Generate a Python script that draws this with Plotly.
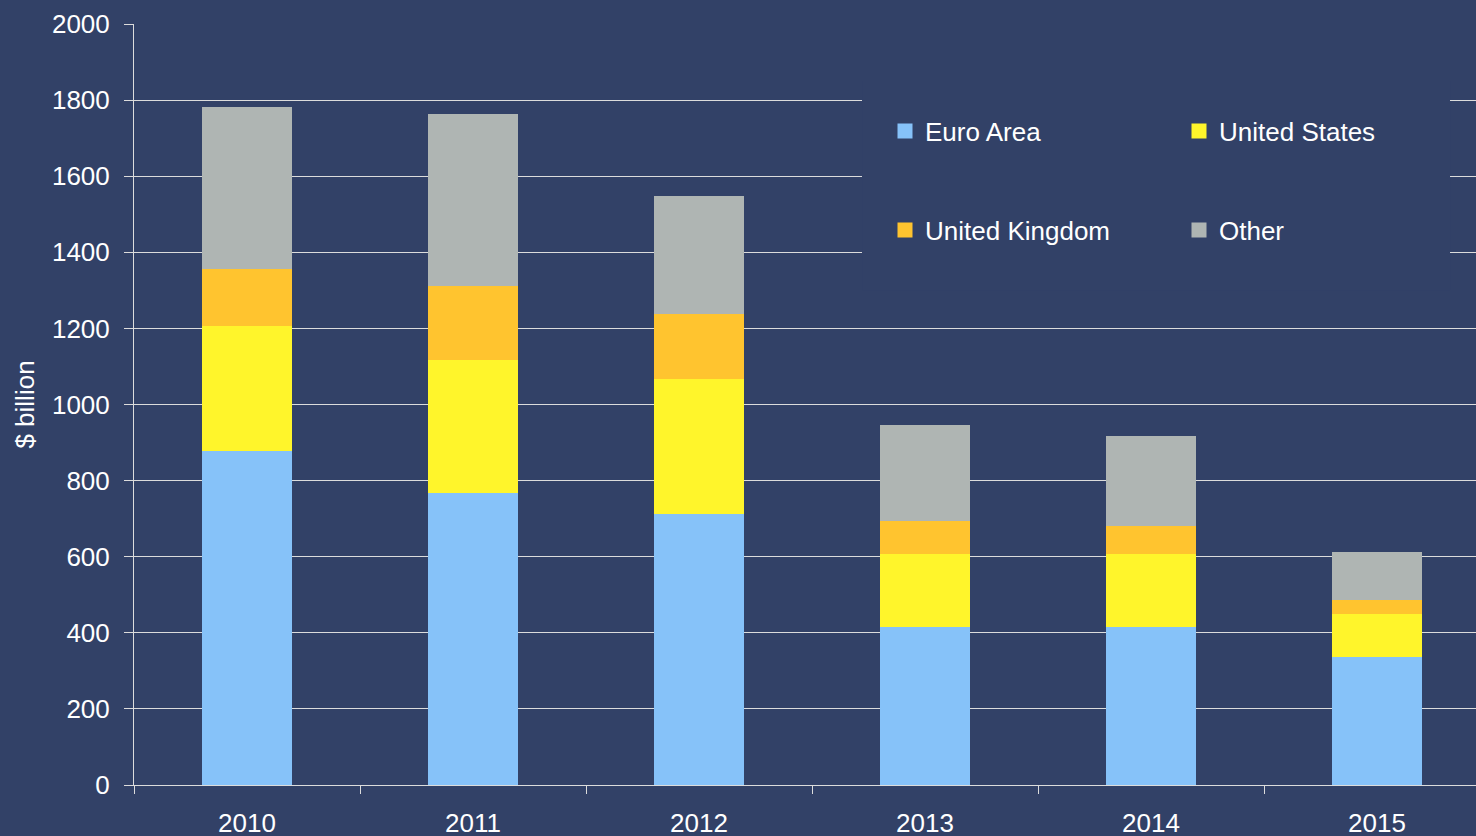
import plotly.graph_objects as go

years = ["2010", "2011", "2012", "2013", "2014", "2015"]
euro_area = [878, 767, 712, 414, 415, 336]
united_states = [328, 350, 355, 193, 192, 113]
united_kingdom = [150, 194, 171, 87, 74, 37]
other = [426, 452, 310, 252, 236, 126]

series_names = ["Euro Area", "United States", "United Kingdom", "Other"]
series_values = [euro_area, united_states, united_kingdom, other]
series_colors = ["#86C2F9", "#FFF52B", "#FFC42F", "#AFB5B3"]
legend_ids = ["legend", "legend2", "legend3", "legend4"]
# legend item positions (pixel left of legend box, pixel y of row centre)
legend_px = [(885, 131), (1179, 131), (885, 230), (1179, 230)]

BG = "#324167"
FONT = "Liberation Sans, Arial, sans-serif"
TXT = "#FFFFFF"
LINE = "#DCDCDC"
FS = 26

PL, PR, PT, PB = 134, 1476, 24, 785

fig = go.Figure()
for name, vals, color in zip(series_names, series_values, series_colors):
    fig.add_trace(go.Bar(x=years, y=vals, name=name, marker=dict(color=color, line=dict(width=0)),
                         width=0.40, showlegend=False))
for name, color, lg in zip(series_names, series_colors, legend_ids):
    fig.add_trace(go.Scatter(x=[None], y=[None], mode="markers", name=name, legend=lg,
                             marker=dict(symbol="square", size=15, color=color), showlegend=True))

legends = {}
for lg, (lx, ly) in zip(legend_ids, legend_px):
    legends[lg] = dict(orientation="v", x=(lx - PL) / (PR - PL), xanchor="left",
                       y=(PB - ly) / (PB - PT), yanchor="middle",
                       bgcolor="rgba(0,0,0,0)", borderwidth=0,
                       font=dict(family=FONT, size=FS, color=TXT), itemclick=False, itemdoubleclick=False)

fig.update_layout(
    width=1476, height=836,
    barmode="stack",
    paper_bgcolor=BG, plot_bgcolor=BG,
    margin=dict(l=PL, r=1476 - PR, t=PT, b=836 - PB, autoexpand=False),
    font=dict(family=FONT, size=FS, color=TXT),
    xaxis=dict(type="category", range=[-0.5, 5.438], tickson="boundaries",
               ticks="outside", ticklen=8, tickcolor=LINE, tickwidth=1,
               showgrid=False, showline=True, linecolor=LINE, linewidth=1,
               ticklabelstandoff=15, tickfont=dict(size=FS, color=TXT)),
    yaxis=dict(range=[0, 2000], tickvals=list(range(0, 2001, 200)),
               ticks="outside", ticklen=9, tickcolor=LINE, tickwidth=1,
               showgrid=True, gridcolor=LINE, gridwidth=1, zeroline=False,
               showline=True, linecolor=LINE, linewidth=1,
               ticklabelstandoff=9, tickfont=dict(size=FS, color=TXT),
               title=dict(text="$ billion", font=dict(size=FS, color=TXT), standoff=9)),
    shapes=[dict(type="rect", xref="x", yref="y", x0=(862 - PL) / 226 - 0.5, x1=(1450 - PL) / 226 - 0.5,
                 y0=1300, y1=1850, fillcolor=BG, line=dict(width=0), layer="above")],
    **legends,
)

fig.write_html("out.html", config={"displayModeBar": False},
               post_script="document.body.style.margin='0';document.body.style.overflow='hidden';")
